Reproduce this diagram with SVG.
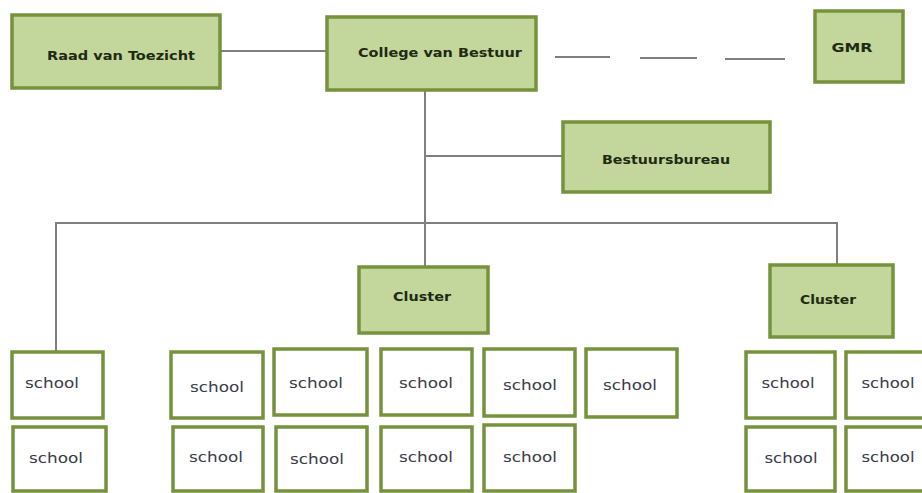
<svg xmlns="http://www.w3.org/2000/svg" width="922" height="493" viewBox="0 0 922 493">
<style>
.g{fill:#c3d69b;stroke:#76923c;stroke-width:3.5}
.s{fill:#ffffff;stroke:#76923c;stroke-width:3.5}
.bt{font-family:"DejaVu Sans",sans-serif;font-weight:bold;font-size:13px;fill:#1e2a12;text-anchor:middle}
.st{font-family:"DejaVu Sans",sans-serif;font-size:14px;fill:#3a3a48;text-anchor:middle}
.c{stroke:#7f7f7f;stroke-width:2;fill:none}
</style>
<rect width="922" height="493" fill="#ffffff"/>
<g id="connectors">
<line class="c" x1="220" y1="51" x2="327" y2="51"/>
<line class="c" x1="555" y1="57" x2="610" y2="57"/>
<line class="c" x1="640" y1="58" x2="697" y2="58"/>
<line class="c" x1="725" y1="59" x2="785" y2="59"/>
<line class="c" x1="425" y1="90" x2="425" y2="267"/>
<line class="c" x1="425" y1="156" x2="563" y2="156"/>
<polyline class="c" points="56,352 56,223 837,223 837,265"/>
</g>
<g id="raad"><rect class="g" x="12" y="15" width="208" height="73"/><text class="bt" x="121" y="60" textLength="148" lengthAdjust="spacingAndGlyphs">Raad van Toezicht</text></g>
<g id="college"><rect class="g" x="327" y="17" width="209" height="73"/><text class="bt" x="440" y="57" textLength="164" lengthAdjust="spacingAndGlyphs">College van Bestuur</text></g>
<g id="gmr"><rect class="g" x="815" y="11" width="88" height="71"/><text class="bt" x="852" y="52" textLength="41" lengthAdjust="spacingAndGlyphs">GMR</text></g>
<g id="bestuursbureau"><rect class="g" x="563" y="122" width="207" height="70"/><text class="bt" x="666" y="164" textLength="128" lengthAdjust="spacingAndGlyphs">Bestuursbureau</text></g>
<g id="cluster1"><rect class="g" x="359" y="267" width="129" height="66"/><text class="bt" x="422" y="301" textLength="58" lengthAdjust="spacingAndGlyphs">Cluster</text></g>
<g id="cluster2"><rect class="g" x="770" y="265" width="123" height="72"/><text class="bt" x="828" y="304" textLength="56" lengthAdjust="spacingAndGlyphs">Cluster</text></g>
<g id="school1"><rect class="s" x="12" y="352" width="91" height="66"/><text class="st" x="52" y="388" textLength="54" lengthAdjust="spacingAndGlyphs">school</text></g>
<g id="school2"><rect class="s" x="13" y="427" width="93" height="64"/><text class="st" x="56" y="463" textLength="54" lengthAdjust="spacingAndGlyphs">school</text></g>
<g id="school3"><rect class="s" x="171" y="352" width="92" height="66"/><text class="st" x="217" y="392" textLength="54" lengthAdjust="spacingAndGlyphs">school</text></g>
<g id="school4"><rect class="s" x="173" y="427" width="90" height="64"/><text class="st" x="216" y="462" textLength="54" lengthAdjust="spacingAndGlyphs">school</text></g>
<g id="school5"><rect class="s" x="274" y="349" width="93" height="66"/><text class="st" x="316" y="388" textLength="54" lengthAdjust="spacingAndGlyphs">school</text></g>
<g id="school6"><rect class="s" x="276" y="427" width="91" height="64"/><text class="st" x="317" y="464" textLength="54" lengthAdjust="spacingAndGlyphs">school</text></g>
<g id="school7"><rect class="s" x="381" y="349" width="91" height="66"/><text class="st" x="426" y="388" textLength="54" lengthAdjust="spacingAndGlyphs">school</text></g>
<g id="school8"><rect class="s" x="381" y="427" width="91" height="64"/><text class="st" x="426" y="462" textLength="54" lengthAdjust="spacingAndGlyphs">school</text></g>
<g id="school9"><rect class="s" x="484" y="349" width="91" height="67"/><text class="st" x="530" y="390" textLength="54" lengthAdjust="spacingAndGlyphs">school</text></g>
<g id="school10"><rect class="s" x="484" y="425" width="91" height="66"/><text class="st" x="530" y="462" textLength="54" lengthAdjust="spacingAndGlyphs">school</text></g>
<g id="school11"><rect class="s" x="586" y="349" width="91" height="68"/><text class="st" x="630" y="390" textLength="54" lengthAdjust="spacingAndGlyphs">school</text></g>
<g id="school12"><rect class="s" x="746" y="352" width="89" height="66"/><text class="st" x="788" y="388" textLength="53" lengthAdjust="spacingAndGlyphs">school</text></g>
<g id="school13"><rect class="s" x="746" y="427" width="89" height="64"/><text class="st" x="791" y="463" textLength="53" lengthAdjust="spacingAndGlyphs">school</text></g>
<g id="school14"><rect class="s" x="846" y="352" width="80" height="66"/><text class="st" x="888" y="388" textLength="53" lengthAdjust="spacingAndGlyphs">school</text></g>
<g id="school15"><rect class="s" x="846" y="427" width="80" height="64"/><text class="st" x="888" y="462" textLength="53" lengthAdjust="spacingAndGlyphs">school</text></g>
</svg>
